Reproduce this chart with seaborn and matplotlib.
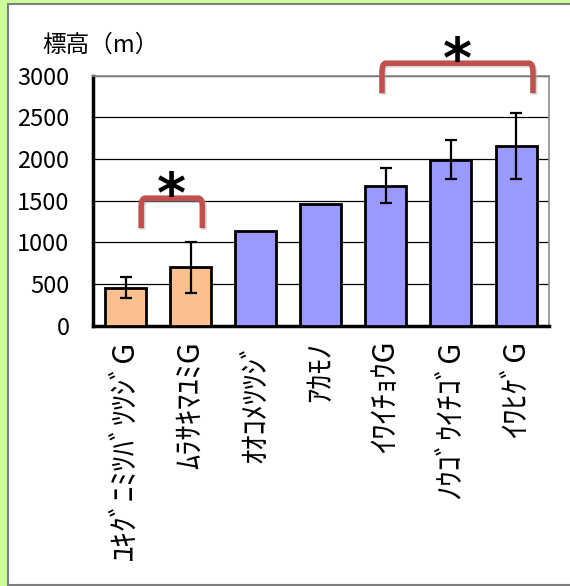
import matplotlib
matplotlib.use("Agg")
import matplotlib.pyplot as plt
import seaborn as sns
import numpy as np
import pandas as pd
from matplotlib.path import Path
from matplotlib.patches import PathPatch, Rectangle

# ---- data ----
species = ["ﾕｷｸﾞﾆﾐﾂﾊﾞﾂﾂｼﾞG", "ﾑﾗｻｷﾏﾕﾐG", "ｵｵｺﾒﾂﾂｼﾞ", "ｱｶﾓﾉ",
           "ｲﾜｲﾁｮｳG", "ﾉｳｺﾞｳｲﾁｺﾞG", "ｲﾜﾋｹﾞG"]
elevation = [456, 700, 1140, 1455, 1682, 1994, 2156]
error = [124, 310, 0, 0, 206, 230, 392]
group = ["low", "low", "high", "high", "high", "high", "high"]
palette = {"low": "#FAC090", "high": "#9999FF"}
yticks = [0, 500, 1000, 1500, 2000, 2500, 3000]
ylabel = "標高（m）"
# significance brackets: (start idx, end idx, leg bottom, top, label)
brackets = [(0.24, 1.18, 1170, 1530, "*"), (3.94, 6.26, 2790, 3150, "*")]

sns.set_theme(style="white")
plt.rcParams["font.family"] = ["Noto Sans CJK JP", "DejaVu Sans"]
plt.rcParams["text.color"] = "black"
plt.rcParams["xtick.color"] = "black"
plt.rcParams["ytick.color"] = "black"
plt.rcParams["xtick.labelcolor"] = "black"
plt.rcParams["ytick.labelcolor"] = "black"

fig = plt.figure(figsize=(5.70, 5.86), dpi=100)
fig.patch.set_facecolor("#ccff99")
# white panel with gray border
fig.patches.append(Rectangle((7.5 / 570, 1.0 / 586), 1.1, 1 - 5.0 / 586,
                             transform=fig.transFigure, facecolor="white",
                             edgecolor="#7f7f7f", linewidth=1.5, zorder=-1))

ax = fig.add_axes([93 / 570, 1 - 325.7 / 586, 455.6 / 570, 250 / 586])
ax.set_facecolor("white")

df = pd.DataFrame({"species": species, "elevation": elevation, "group": group})
sns.barplot(data=df, x="species", y="elevation", hue="group", palette=palette,
            dodge=False, legend=False, width=0.63, edgecolor="black",
            linewidth=2.0, saturation=1, errorbar=None, ax=ax, zorder=3)

xs = np.arange(len(species))
err = np.array(error, dtype=float)
m = err > 0
ax.errorbar(xs[m], np.array(elevation)[m], yerr=err[m], fmt="none",
            ecolor="black", elinewidth=1.6, capsize=4.5, capthick=1.6, zorder=4)

ax.set_ylim(0, 3000)
ax.set_xlim(-0.5, len(species) - 0.5)
ax.set_yticks(yticks)
ax.set_yticklabels([str(v) for v in yticks], fontsize=17, color="black")
ax.yaxis.grid(True, color="black", linewidth=0.9)
ax.set_axisbelow(True)
ax.set_xlabel("")
ax.set_ylabel("")
ax.set_xticks(xs)
ax.set_xticklabels(species, rotation=90, fontsize=22, va="top", ha="center", color="black")
ax.set_xticks(np.arange(-0.5, len(species)), minor=True)
ax.tick_params(axis="x", which="major", length=0, pad=11)
ax.tick_params(axis="x", which="minor", direction="in", length=5, width=2.5, color="black")
ax.tick_params(axis="y", direction="in", length=5, width=2.5, color="black", pad=17)
for lbl in ax.get_yticklabels():
    lbl.set_horizontalalignment("right")

for s in ["left", "bottom"]:
    ax.spines[s].set_color("black")
    ax.spines[s].set_linewidth(2.5)
for s in ["top", "right"]:
    ax.spines[s].set_color("#8c8c8c")
    ax.spines[s].set_linewidth(1.2)

fig.text(42 / 570, 1 - 45 / 586, ylabel, fontsize=17, ha="left", va="center", color="black")

# brackets
for x0, x1, yb, yt, lab in brackets:
    r = 0.06
    ry = 110
    verts = [(x0, yb), (x0, yt - ry), (x0, yt), (x0 + r, yt),
             (x1 - r, yt), (x1, yt), (x1, yt - ry), (x1, yb)]
    codes = [Path.MOVETO, Path.LINETO, Path.CURVE3, Path.CURVE3,
             Path.LINETO, Path.CURVE3, Path.CURVE3, Path.LINETO]
    path = Path(verts, codes)
    shadow = PathPatch(path, facecolor="none", edgecolor="#b0b0b0", linewidth=4.2,
                       alpha=0.5, clip_on=False, zorder=5,
                       transform=ax.transData + matplotlib.transforms.ScaledTranslation(1.5 / 100, -1.5 / 100, fig.dpi_scale_trans))
    ax.add_patch(shadow)
    ax.add_patch(PathPatch(path, facecolor="none", edgecolor="#C0504D", linewidth=4.0,
                           capstyle="butt", clip_on=False, zorder=6))
    ax.text((x0 + x1) / 2, yt + 20, lab, fontsize=40, ha="center", va="center",
            fontweight="bold", clip_on=False, zorder=7, family="DejaVu Sans", color="black")

fig.savefig("out.png", dpi=100, facecolor=fig.get_facecolor())
